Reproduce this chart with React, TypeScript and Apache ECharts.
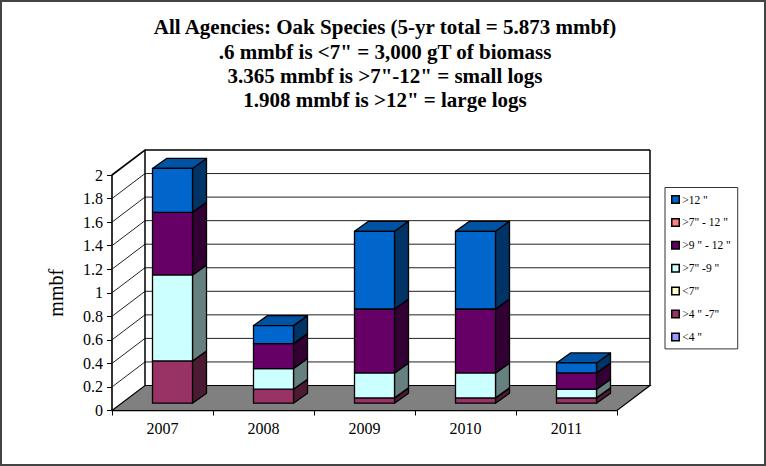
import React, { useEffect, useRef } from "react";
import * as echarts from "echarts";

const categories = ["2007", "2008", "2009", "2010", "2011"];
const legendOrder = ['>12 "', '>7" - 12 "', '>9 " - 12 "', '>7" -9 "', '<7"', '>4 " -7"', '<4 "'];
const under4: number[] = [0, 0, 0, 0, 0];
const from4to7 = [0.359, 0.119, 0.045, 0.045, 0.045];
const under7: number[] = [0, 0, 0, 0, 0];
const from7to9 = [0.73, 0.175, 0.212, 0.212, 0.074];
const from9to12 = [0.532, 0.212, 0.543, 0.543, 0.138];
const from7to12: number[] = [0, 0, 0, 0, 0];
const over12 = [0.373, 0.153, 0.66, 0.66, 0.085];
const yTicks = [0, 0.2, 0.4, 0.6, 0.8, 1, 1.2, 1.4, 1.6, 1.8, 2];
const titleLines = [
  "All Agencies: Oak Species (5-yr total = 5.873 mmbf)",
  '.6 mmbf is <7" = 3,000 gT of biomass',
  '3.365 mmbf is >7"-12" = small logs',
  '1.908 mmbf is >12" = large logs',
];
const yName = "mmbf";

const stackOrder: [string, number[], string, string, string][] = [
  ['<4 "', under4, "#9999ff", "#7a7acc", "#4c4c80"],
  ['>4 " -7"', from4to7, "#993366", "#7a2952", "#4c1a33"],
  ['<7"', under7, "#ffffcc", "#ccccA3", "#808066"],
  ['>7" -9 "', from7to9, "#ccffff", "#a3cccc", "#668080"],
  ['>9 " - 12 "', from9to12, "#660066", "#520052", "#330033"],
  ['>7" - 12 "', from7to12, "#ff8080", "#cc6666", "#804040"],
  ['>12 "', over12, "#0066cc", "#0052a3", "#003366"],
];

const FONT = "Liberation Serif";
const DEPTH_X = 33;
const DEPTH_Y = 25;
const BAR_W = 40;
const BAR_SHIFT_X = 10;
const BAR_SHIFT_Y = 7.3;
const BAR_DX = 14;
const BAR_DY = 10;
const LINE = { stroke: "#000", lineWidth: 1.5 };

function wallItem(params: any, api: any) {
  const v = api.value(0);
  const rect = params.coordSys;
  const [, y] = api.coord([0, v]);
  const x0 = rect.x;
  const x1 = rect.x + rect.width;
  const children: any[] = [];
  if (v === 0) {
    children.push({
      type: "polygon",
      shape: { points: [[x0, y], [x0 + DEPTH_X, y - DEPTH_Y], [x1 + DEPTH_X, y - DEPTH_Y], [x1, y]] },
      style: { fill: "#808080", stroke: "#000", lineWidth: 1.2 },
    });
  } else {
    children.push({
      type: "polyline",
      shape: { points: [[x0, y], [x0 + DEPTH_X, y - DEPTH_Y], [x1 + DEPTH_X, y - DEPTH_Y]] },
      style: { fill: "none", stroke: v === 2 ? "#000" : "#222", lineWidth: v === 2 ? 1.6 : 1 },
    });
  }
  if (v === 2) {
    const [, y0] = api.coord([0, 0]);
    children.push(
      { type: "line", shape: { x1: x0 + DEPTH_X, y1: y - DEPTH_Y, x2: x0 + DEPTH_X, y2: y0 - DEPTH_Y }, style: LINE },
      { type: "line", shape: { x1: x1 + DEPTH_X, y1: y - DEPTH_Y, x2: x1 + DEPTH_X, y2: y0 - DEPTH_Y }, style: LINE },
    );
  }
  return { type: "group", children };
}

function barRenderer(front: string, top: string, side: string) {
  return (_params: any, api: any) => {
    const cat = api.value(0);
    const [cx, ya] = api.coord([cat, api.value(1)]);
    const [, yb] = api.coord([cat, api.value(2)]);
    const l = cx + BAR_SHIFT_X - BAR_W / 2;
    const r = l + BAR_W;
    const bot = ya - BAR_SHIFT_Y;
    const tp = yb - BAR_SHIFT_Y;
    const st = { stroke: "#000", lineWidth: 1.3, lineJoin: "round" };
    return {
      type: "group",
      children: [
        { type: "polygon", shape: { points: [[r, bot], [r + BAR_DX, bot - BAR_DY], [r + BAR_DX, tp - BAR_DY], [r, tp]] }, style: { ...st, fill: side } },
        { type: "polygon", shape: { points: [[l, tp], [l + BAR_DX, tp - BAR_DY], [r + BAR_DX, tp - BAR_DY], [r, tp]] }, style: { ...st, fill: top } },
        { type: "polygon", shape: { points: [[l, bot], [r, bot], [r, tp], [l, tp]] }, style: { ...st, fill: front } },
      ],
    };
  };
}

function buildSeries() {
  const running = categories.map(() => 0);
  const series: any[] = [
    {
      type: "custom",
      name: "walls",
      coordinateSystem: "cartesian2d",
      clip: false,
      silent: true,
      z: 1,
      encode: { y: 0 },
      data: yTicks.map((v) => [v]),
      renderItem: wallItem,
    },
  ];
  stackOrder.forEach(([name, values, front, top, side], idx) => {
    const data: number[][] = [];
    values.forEach((v, i) => {
      if (v > 0) {
        data.push([i, running[i], running[i] + v]);
        running[i] += v;
      }
    });
    series.push({
      type: "custom",
      name,
      coordinateSystem: "cartesian2d",
      clip: false,
      z: 2 + idx,
      encode: { x: 0, y: [1, 2] },
      itemStyle: { color: front },
      data,
      renderItem: barRenderer(front, top, side),
    });
  });
  return series;
}

export default function App() {
  const ref = useRef<HTMLDivElement>(null);
  useEffect(() => {
    document.body.style.margin = "0";
    const chart = echarts.init(ref.current!, undefined, { renderer: "svg" });
    chart.setOption({
      animation: false,
      backgroundColor: "#fff",
      textStyle: { fontFamily: FONT },
      title: {
        text: titleLines.join("\n"),
        left: 380,
        top: 10,
        textAlign: "center",
        textStyle: { fontFamily: FONT, fontSize: 21, fontWeight: "bold", color: "#000", lineHeight: 24.4 },
      },
      legend: {
        data: legendOrder,
        orient: "vertical",
        left: 665,
        top: 187.5,
        icon: "rect",
        itemWidth: 7.5,
        itemHeight: 7.5,
        itemGap: 10.9,
        padding: [6, 7, 6, 6],
        borderColor: "#333",
        borderWidth: 1,
        backgroundColor: "#fff",
        selectedMode: false,
        itemStyle: { borderColor: "#000", borderWidth: 1.5 },
        textStyle: { fontFamily: FONT, fontSize: 11.5, color: "#000", padding: [0, 0, 0, -2] },
      },
      grid: { left: 112, top: 175, width: 505, height: 235.5, containLabel: false },
      xAxis: {
        type: "category",
        data: categories,
        axisLine: { lineStyle: { color: "#000", width: 1.3 } },
        axisTick: { show: true, alignWithLabel: false, length: 5, lineStyle: { color: "#000", width: 1 } },
        axisLabel: { fontFamily: FONT, fontSize: 16, color: "#000", margin: 10 },
      },
      yAxis: {
        type: "value",
        min: 0,
        max: 2,
        interval: 0.2,
        name: yName,
        nameLocation: "middle",
        nameGap: 46,
        nameTextStyle: { fontFamily: FONT, fontSize: 20, color: "#000" },
        axisLine: { show: true, lineStyle: { color: "#000", width: 1.6 } },
        axisTick: { show: true, length: 5, lineStyle: { color: "#000", width: 1 } },
        axisLabel: { fontFamily: FONT, fontSize: 16, color: "#000", margin: 9 },
        splitLine: { show: false },
      },
      graphic: [
        {
          type: "rect",
          silent: true,
          z: -1,
          shape: { x: 1, y: 1, width: 764, height: 464 },
          style: { fill: "none", stroke: "#444", lineWidth: 2 },
        },
      ],
      series: buildSeries(),
    });
    return () => chart.dispose();
  }, []);
  return <div ref={ref} style={{ position: "absolute", left: 0, top: 0, width: 766, height: 466 }} />;
}
